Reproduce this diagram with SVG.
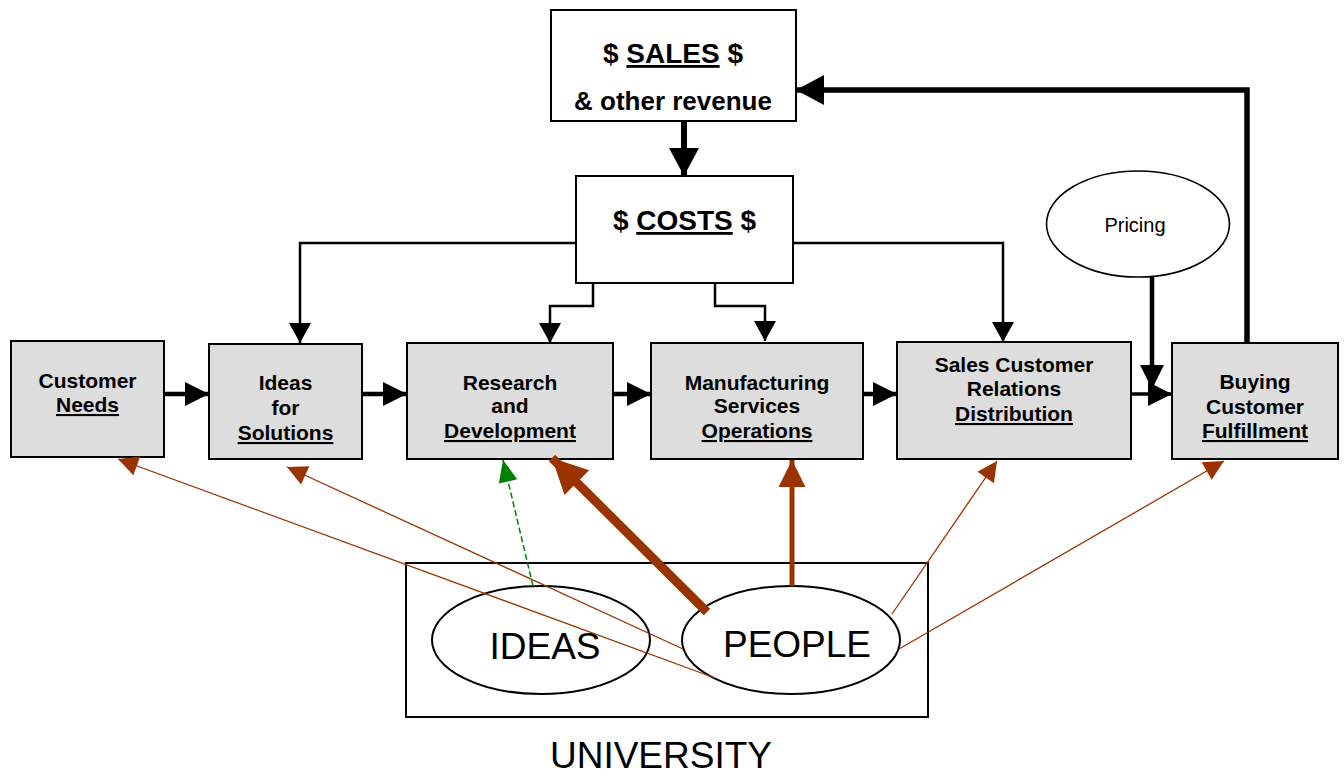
<svg xmlns="http://www.w3.org/2000/svg" width="1344" height="777" viewBox="0 0 1344 777">
<style>
.box{fill:#dddddd;stroke:#000;stroke-width:2}
.wbox{fill:#fff;stroke:#000;stroke-width:2}
.ell{fill:#fff;stroke:#000;stroke-width:2}
.bt{font-family:"Liberation Sans",Arial,sans-serif;font-weight:bold;font-size:21px;text-anchor:middle;fill:#000}
.big{font-family:"Liberation Sans",Arial,sans-serif;font-weight:bold;font-size:28px;text-anchor:middle;fill:#000}
.lg{font-family:"Liberation Sans",Arial,sans-serif;font-size:37px;text-anchor:middle;fill:#000}
.u{text-decoration:underline}
.k{fill:none;stroke:#000}
.br{fill:none;stroke:#993300}
</style>
<defs>
<marker id="mBig" markerUnits="userSpaceOnUse" markerWidth="28" markerHeight="30" refX="28" refY="15" orient="auto" overflow="visible"><path d="M0,0 L28,15 L0,30 z" fill="#000"/></marker>
<marker id="mMed" markerUnits="userSpaceOnUse" markerWidth="24" markerHeight="24" refX="24" refY="12" orient="auto" overflow="visible"><path d="M0,0 L24,12 L0,24 z" fill="#000"/></marker>
<marker id="mSm" markerUnits="userSpaceOnUse" markerWidth="20" markerHeight="22" refX="20" refY="11" orient="auto" overflow="visible"><path d="M0,0 L20,11 L0,22 z" fill="#000"/></marker>
<marker id="bThin" markerUnits="userSpaceOnUse" markerWidth="20" markerHeight="20" refX="20" refY="10" orient="auto" overflow="visible"><path d="M0,0 L20,10 L0,20 z" fill="#993300"/></marker>
<marker id="bMid" markerUnits="userSpaceOnUse" markerWidth="27" markerHeight="27" refX="27" refY="13.5" orient="auto" overflow="visible"><path d="M0,0 L27,13.5 L0,27 z" fill="#993300"/></marker>
<marker id="bThick" markerUnits="userSpaceOnUse" markerWidth="35" markerHeight="35" refX="35" refY="17.5" orient="auto" overflow="visible"><path d="M0,0 L35,17.5 L0,35 z" fill="#993300"/></marker>
<marker id="gM" markerUnits="userSpaceOnUse" markerWidth="22" markerHeight="19" refX="22" refY="9.5" orient="auto" overflow="visible"><path d="M0,0 L22,9.5 L0,19 z" fill="#008000"/></marker>
</defs>

<g id="sales">
<rect class="wbox" x="551" y="10" width="245" height="111"/>
<text class="big" x="673" y="63">$ <tspan class="u">SALES</tspan> $</text>
<text class="big" x="673" y="110" style="font-size:26px">&amp; other revenue</text>
</g>
<g id="costs">
<rect class="wbox" x="576" y="176" width="217" height="107"/>
<text class="big" x="684.5" y="230">$ <tspan class="u">COSTS</tspan> $</text>
</g>
<g id="pricing">
<ellipse class="ell" cx="1138" cy="224" rx="91.5" ry="53" style="stroke-width:1.6"/>
<text x="1135" y="232" style="font-family:'Liberation Sans',Arial,sans-serif;font-size:20px;text-anchor:middle">Pricing</text>
</g>
<g id="customer-needs">
<rect class="box" x="11" y="341" width="153" height="116"/>
<text class="bt" x="87.5" y="388">Customer</text>
<text class="bt" x="87.5" y="412"><tspan class="u">Needs</tspan></text>
</g>
<g id="ideas-for-solutions">
<rect class="box" x="209" y="344" width="153" height="115"/>
<text class="bt" x="285.5" y="390">Ideas</text>
<text class="bt" x="285.5" y="415">for</text>
<text class="bt" x="285.5" y="440"><tspan class="u">Solutions</tspan></text>
</g>
<g id="research-development">
<rect class="box" x="407" y="343" width="206" height="116"/>
<text class="bt" x="510" y="390">Research</text>
<text class="bt" x="510" y="413">and</text>
<text class="bt" x="510" y="438"><tspan class="u">Development</tspan></text>
</g>
<g id="manufacturing">
<rect class="box" x="651" y="343" width="212" height="116"/>
<text class="bt" x="757" y="390">Manufacturing</text>
<text class="bt" x="757" y="413">Services</text>
<text class="bt" x="757" y="438"><tspan class="u">Operations</tspan></text>
</g>
<g id="sales-customer-relations">
<rect class="box" x="897" y="342" width="234" height="117"/>
<text class="bt" x="1014" y="372">Sales Customer</text>
<text class="bt" x="1014" y="396">Relations</text>
<text class="bt" x="1014" y="421"><tspan class="u">Distribution</tspan></text>
</g>
<g id="buying-fulfillment">
<rect class="box" x="1172" y="343" width="166" height="116"/>
<text class="bt" x="1255" y="389">Buying</text>
<text class="bt" x="1255" y="414">Customer</text>
<text class="bt" x="1255" y="438"><tspan class="u">Fulfillment</tspan></text>
</g>
<g id="university">
<rect x="406" y="563" width="522" height="154" fill="none" stroke="#000" stroke-width="2"/>
<text class="lg" x="661" y="768">UNIVERSITY</text>
</g>
<g id="ideas">
<ellipse class="ell" cx="541" cy="640" rx="109" ry="54"/>
<text class="lg" x="545" y="659">IDEAS</text>
</g>
<g id="people">
<ellipse class="ell" cx="791" cy="640" rx="109" ry="54"/>
<text class="lg" x="797" y="657">PEOPLE</text>
</g>

<g id="connectors">
<line class="k" x1="684" y1="121" x2="684" y2="176" stroke-width="6" marker-end="url(#mBig)"/>
<polyline class="k" points="1247,343 1247,90 796,90" stroke-width="5.5" marker-end="url(#mBig)"/>
<polyline class="k" points="576,243 300,243 300,343" stroke-width="2.5" marker-end="url(#mSm)"/>
<polyline class="k" points="593,283 593,306 550,306 550,343" stroke-width="2.5" marker-end="url(#mSm)"/>
<polyline class="k" points="715,283 715,306 765,306 765,341" stroke-width="2.5" marker-end="url(#mSm)"/>
<polyline class="k" points="793,243 1003,243 1003,342" stroke-width="2.5" marker-end="url(#mSm)"/>
<line class="k" x1="164" y1="394" x2="209" y2="394" stroke-width="4.5" marker-end="url(#mMed)"/>
<line class="k" x1="362" y1="394" x2="407" y2="394" stroke-width="4.5" marker-end="url(#mMed)"/>
<line class="k" x1="613" y1="394" x2="651" y2="394" stroke-width="4.5" marker-end="url(#mMed)"/>
<line class="k" x1="863" y1="394" x2="897" y2="394" stroke-width="4.5" marker-end="url(#mMed)"/>
<line class="k" x1="1131" y1="394" x2="1172" y2="394" stroke-width="3.5" marker-end="url(#mMed)"/>
<line class="k" x1="1152" y1="277" x2="1152" y2="389" stroke-width="4.5" marker-end="url(#mMed)"/>
<line class="br" x1="715" y1="678" x2="118" y2="459" stroke-width="1.3" marker-end="url(#bThin)"/>
<line class="br" x1="683" y1="649" x2="287" y2="467" stroke-width="1.3" marker-end="url(#bThin)"/>
<line class="br" x1="892" y1="614" x2="997" y2="461" stroke-width="1.3" marker-end="url(#bThin)"/>
<line class="br" x1="899" y1="649" x2="1224" y2="461" stroke-width="1.3" marker-end="url(#bThin)"/>
<line x1="533" y1="586" x2="503" y2="460" stroke="#008000" stroke-width="1.5" stroke-dasharray="6,3" marker-end="url(#gM)"/>
<line class="br" x1="707" y1="612" x2="552" y2="458" stroke-width="9" marker-end="url(#bThick)"/>
<line class="br" x1="792" y1="586" x2="792" y2="460" stroke-width="5" marker-end="url(#bMid)"/>
</g>
</svg>
